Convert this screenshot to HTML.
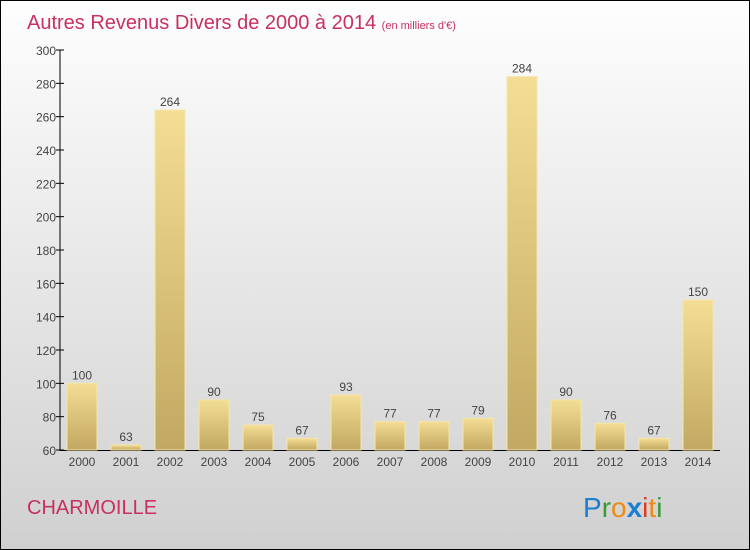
<!DOCTYPE html>
<html><head><meta charset="utf-8"><style>
body{margin:0;width:750px;height:550px;overflow:hidden}
svg{display:block}
text{font-family:"Liberation Sans",sans-serif}
</style></head><body>
<svg id="c" width="750" height="550">
<defs>
<linearGradient id="bg" x1="0" y1="0" x2="0" y2="1"><stop offset="0" stop-color="#fefefe"/><stop offset="1" stop-color="#d0d0d0"/></linearGradient>
<linearGradient id="bar" x1="0" y1="0" x2="0" y2="1"><stop offset="0" stop-color="#f4dd94"/><stop offset="1" stop-color="#c2a862"/></linearGradient>
</defs>
<rect x="0.5" y="0.5" width="749" height="549" fill="url(#bg)" stroke="#000"/>
<text x="27" y="29" font-size="20" fill="#c8305f">Autres Revenus Divers de 2000 à 2014 <tspan font-size="11">(en milliers d'€)</tspan></text>
<text x="27" y="514" font-size="20" fill="#c8305f">CHARMOILLE</text>
<g font-size="28" font-family="Liberation Sans,sans-serif">
<text x="583" y="517"><tspan fill="#1a7fd0">P</tspan><tspan fill="#3a9a3a">r</tspan><tspan fill="#f08a10">o</tspan><tspan fill="#1a7fd0" font-weight="bold">x</tspan><tspan fill="#e03a20">i</tspan><tspan fill="#f08a10">t</tspan><tspan fill="#3a9a3a">i</tspan></text>
</g>
<g id="axes"></g><g id="bars"></g>
</svg>
<script>
const years=["2000","2001","2002","2003","2004","2005","2006","2007","2008","2009","2010","2011","2012","2013","2014"];
const values=[100,63,264,90,75,67,93,77,77,79,284,90,76,67,150];
const ticks=[60,80,100,120,140,160,180,200,220,240,260,280,300];
const NS="http://www.w3.org/2000/svg";
const y=v=>450-(v-60)*400/240;
const x=i=>82+i*44;
function mk(t,a,p){const e=document.createElementNS(NS,t);for(const k in a)e.setAttribute(k,a[k]);p.appendChild(e);return e;}
const ax=document.getElementById('axes'),bg=document.getElementById('bars');
const yl=mk('line',{x1:60,y1:50,x2:60,y2:451,stroke:'#000'},ax);


const xl=mk('line',{x1:60,y1:450.5,x2:720,y2:450.5,stroke:'#000'},ax);


ticks.forEach(t=>{
 mk('line',{x1:56,x2:64,y1:y(t),y2:y(t),stroke:'#000'},ax);
 const tx=mk('text',{x:56,y:y(t)+5,'text-anchor':'end','font-size':12,fill:'#444'},ax);tx.textContent=t;
 
 
});
years.forEach((yr,i)=>{
 const v=values[i];
 const r=mk('rect',{x:x(i)-15,y:y(v),width:30,height:450-y(v),fill:'url(#bar)',stroke:'#f6e6a8','stroke-width':1},bg);
 
 
 const vl=mk('text',{x:x(i),y:y(v)-4,'text-anchor':'middle','font-size':12,fill:'#444'},bg);vl.textContent=v;
 
 
 const xlab=mk('text',{x:x(i),y:466,'text-anchor':'middle','font-size':12,fill:'#444'},bg);xlab.textContent=yr;
 
 
});
</script>
</body></html>
